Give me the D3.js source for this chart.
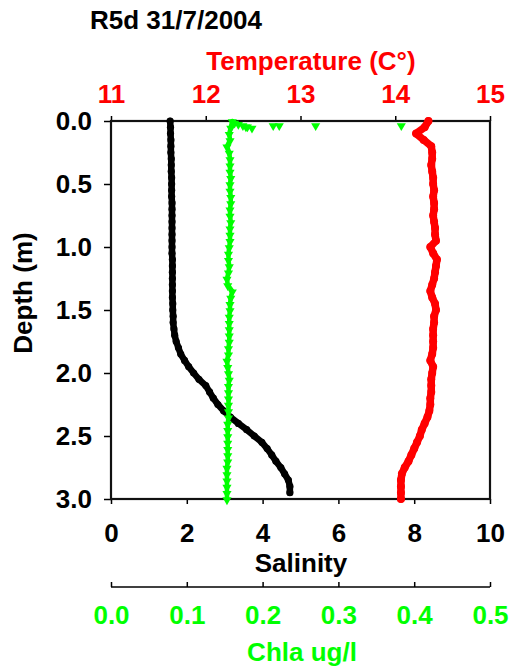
<!DOCTYPE html>
<html>
<head>
<meta charset="utf-8">
<script src="https://cdn.jsdelivr.net/npm/d3@7"></script>
<style>
  html, body { margin: 0; padding: 0; background: #fff; }
  svg { display: block; }
  text { font-family: "Liberation Sans", Arial, sans-serif; font-weight: bold; }
</style>
</head>
<body>
<svg id="chart" width="512" height="671"></svg>
<script>
// Profile samples, depth in metres
const depth = [
  0.00, 0.05, 0.10, 0.15, 0.20, 0.25, 0.30, 0.35, 0.40, 0.45,
  0.50, 0.55, 0.60, 0.65, 0.70, 0.75, 0.80, 0.85, 0.90, 0.95,
  1.00, 1.05, 1.10, 1.15, 1.20, 1.25, 1.30, 1.35, 1.40, 1.45,
  1.50, 1.55, 1.60, 1.65, 1.70, 1.75, 1.80, 1.85, 1.90, 1.95,
  2.00, 2.05, 2.10, 2.15, 2.20, 2.25, 2.30, 2.35, 2.40, 2.45,
  2.50, 2.55, 2.60, 2.65, 2.70, 2.75, 2.80, 2.85, 2.90, 2.95,
  3.00
];

// Salinity (black), last sample ends above 3.0 m
const salinity = [
  1.56, 1.57, 1.57, 1.58, 1.58, 1.58, 1.59, 1.59, 1.59, 1.60,
  1.60, 1.60, 1.60, 1.61, 1.61, 1.61, 1.61, 1.61, 1.61, 1.61,
  1.61, 1.61, 1.62, 1.62, 1.62, 1.62, 1.62, 1.62, 1.62, 1.63,
  1.63, 1.64, 1.64, 1.66, 1.68, 1.72, 1.78, 1.84, 1.94, 2.05,
  2.18, 2.32, 2.50, 2.60, 2.70, 2.82, 2.97, 3.15, 3.36, 3.58,
  3.78, 3.98, 4.12, 4.24, 4.35, 4.48, 4.58, 4.68, 4.72, 4.72,
  null
];

// Temperature in °C (red)
const temperature = [
  14.35, 14.31, 14.22, 14.30, 14.38, 14.39, 14.39, 14.38, 14.39, 14.40,
  14.40, 14.41, 14.40, 14.41, 14.41, 14.40, 14.41, 14.42, 14.42, 14.43,
  14.37, 14.40, 14.44, 14.43, 14.42, 14.41, 14.39, 14.37, 14.39, 14.42,
  14.43, 14.41, 14.41, 14.40, 14.40, 14.40, 14.40, 14.39, 14.37, 14.40,
  14.39, 14.38, 14.38, 14.38, 14.37, 14.37, 14.36, 14.34, 14.31, 14.28,
  14.26, 14.23, 14.20, 14.17, 14.14, 14.10, 14.07, 14.06, 14.06, 14.06,
  14.06
];

// Chlorophyll a in ug/l (green)
const chla = [
  0.160, 0.158, 0.156, 0.157, 0.153, 0.156, 0.157, 0.157, 0.157, 0.158,
  0.157, 0.157, 0.158, 0.158, 0.157, 0.157, 0.158, 0.157, 0.157, 0.157,
  0.156, 0.155, 0.155, 0.156, 0.155, 0.153, 0.154, 0.160, 0.158, 0.157,
  0.157, 0.156, 0.156, 0.156, 0.156, 0.156, 0.155, 0.155, 0.153, 0.154,
  0.155, 0.156, 0.155, 0.155, 0.155, 0.155, 0.155, 0.155, 0.154, 0.154,
  0.154, 0.154, 0.154, 0.154, 0.154, 0.153, 0.153, 0.153, 0.153, 0.153,
  0.153
];

// Scattered chlorophyll readings just below the surface
const chlaSurfaceDepth = [0.01, 0.02, 0.03, 0.04, 0.05, 0.04, 0.03, 0.03, 0.03, 0.03];
const chlaSurfaceValue = [0.163, 0.168, 0.174, 0.180, 0.186, 0.178, 0.214, 0.222, 0.270, 0.383];

// Axis ticks
const tempTicks = [11, 12, 13, 14, 15];
const depthTicks = [0.0, 0.5, 1.0, 1.5, 2.0, 2.5, 3.0];
const salinityTicks = [0, 2, 4, 6, 8, 10];
const chlaTicks = [0.0, 0.1, 0.2, 0.3, 0.4, 0.5];

const RED = "#ff0000", GREEN = "#00ff00", BLACK = "#000000";
const FS = 26;

const svg = d3.select("#chart");
const plotLeft = 111, plotRight = 490, plotTop = 121, plotBottom = 499;

const y = d3.scaleLinear().domain([0, 3]).range([plotTop, plotBottom]);
const xSal = d3.scaleLinear().domain([0, 10]).range([plotLeft, plotRight]);
const xTemp = d3.scaleLinear().domain([11, 15]).range([plotLeft, plotRight]);
const xChla = d3.scaleLinear().domain([0, 0.5]).range([plotLeft, plotRight]);

function styleAxis(g, color) {
  g.select(".domain").remove();
  g.selectAll(".tick line").attr("stroke", "#000").attr("stroke-width", 1.5);
  g.selectAll(".tick text").attr("fill", color)
    .style("font-size", FS + "px").style("font-weight", "bold")
    .style("font-family", '"Liberation Sans", Arial, sans-serif');
}

// Depth axis
svg.append("g").attr("transform", `translate(${plotLeft},0)`)
  .call(d3.axisLeft(y).tickValues(depthTicks).tickSize(7).tickPadding(12).tickFormat(d3.format(".1f")))
  .call(g => styleAxis(g, BLACK));

// Temperature axis (top)
svg.append("g").attr("transform", `translate(0,${plotTop})`)
  .call(d3.axisTop(xTemp).tickValues(tempTicks).tickSize(5).tickPadding(13).tickFormat(d3.format("d")))
  .call(g => styleAxis(g, RED));

// Salinity axis (bottom)
svg.append("g").attr("transform", `translate(0,${plotBottom})`)
  .call(d3.axisBottom(xSal).tickValues(salinityTicks).tickSize(5).tickPadding(20).tickFormat(d3.format("d")))
  .call(g => styleAxis(g, BLACK));

// Chlorophyll axis (detached, below)
const chlaY = 587;
const chlaAxis = svg.append("g").attr("transform", `translate(0,${chlaY})`)
  .call(d3.axisBottom(xChla).tickValues(chlaTicks).tickSize(-5).tickPadding(19).tickFormat(d3.format(".1f")))
  .call(g => styleAxis(g, GREEN));
chlaAxis.append("line").attr("x1", plotLeft).attr("x2", plotRight)
  .attr("stroke", "#000").attr("stroke-width", 1.5);

// Plot frame
svg.append("rect")
  .attr("x", plotLeft).attr("y", plotTop)
  .attr("width", plotRight - plotLeft).attr("height", plotBottom - plotTop)
  .attr("fill", "none").attr("stroke", "#111").attr("stroke-width", 2.2);

// Series
const plot = svg.append("g");

function profile(values, xs, color, width) {
  const pts = depth.map((d, i) => ({ d, v: values[i] })).filter(p => p.v != null);
  plot.append("path").datum(pts)
    .attr("fill", "none").attr("stroke", color).attr("stroke-width", width)
    .attr("stroke-linejoin", "round").attr("stroke-linecap", "round")
    .attr("d", d3.line().x(p => xs(p.v)).y(p => y(p.d)));
  return pts;
}

const salPts = profile(salinity, xSal, BLACK, 6.5);
plot.selectAll(null).data(salPts).join("circle")
  .attr("cx", p => xSal(p.v)).attr("cy", p => y(p.d)).attr("r", 3.6).attr("fill", BLACK);

const tempPts = profile(temperature, xTemp, RED, 7.5);
plot.selectAll(null).data(tempPts).join("circle")
  .attr("cx", p => xTemp(p.v)).attr("cy", p => y(p.d)).attr("r", 4).attr("fill", RED);

const chlaPts = profile(chla, xChla, GREEN, 4.5);
const tri = d3.symbol().type(d3.symbolTriangle).size(36);
const surfacePts = chlaSurfaceDepth.map((d, i) => ({ d, v: chlaSurfaceValue[i] }));
plot.selectAll(null).data(chlaPts.concat(surfacePts)).join("path")
  .attr("d", tri)
  .attr("transform", p => `translate(${xChla(p.v)},${y(p.d) + 1}) rotate(180)`)
  .attr("fill", GREEN);

// Titles
svg.append("text").attr("x", 90).attr("y", 29)
  .style("font-size", FS + "px").attr("fill", BLACK).text("R5d 31/7/2004");

svg.append("text").attr("x", 311).attr("y", 70).attr("text-anchor", "middle")
  .style("font-size", FS + "px").attr("fill", RED).text("Temperature (C°)");

svg.append("text").attr("transform", "translate(32,293) rotate(-90)").attr("text-anchor", "middle")
  .style("font-size", FS + "px").attr("fill", BLACK).text("Depth (m)");

svg.append("text").attr("x", 301).attr("y", 572).attr("text-anchor", "middle")
  .style("font-size", FS + "px").attr("fill", BLACK).text("Salinity");

svg.append("text").attr("x", 302).attr("y", 661).attr("text-anchor", "middle")
  .style("font-size", FS + "px").attr("fill", GREEN).text("Chla ug/l");
</script>
</body>
</html>
